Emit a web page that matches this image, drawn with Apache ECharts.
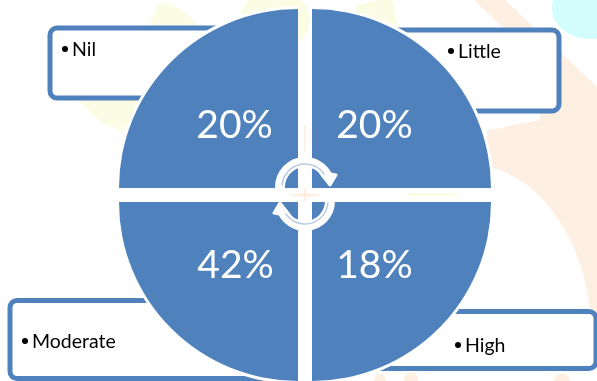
<!DOCTYPE html>
<html>
<head>
<meta charset="utf-8">
<style>html,body{margin:0;padding:0;background:#fff}#chart{width:597px;height:381px}</style>
<script src="https://cdn.jsdelivr.net/npm/echarts@6/dist/echarts.min.js"></script>
</head>
<body>
<div id="chart"></div>
<script>
// Answers by level, one quadrant each
const categories = ['Nil', 'Little', 'Moderate', 'High'];
const shares = [20, 20, 42, 18];

const BLUE = '#4f81bd';
const PEACH = '#feefe3';
const YELLOW = '#fafde4';
const LABEL_FONT = '19.5px Lato, "Open Sans", sans-serif';

// Quadrant placement: centre, sweep and percent label nudge of each sector
const quadrants = [
  { center: [298, 188], start: 180, end: 90, nudge: [2, 3] },
  { center: [312, 188], start: 90, end: 0, nudge: [-3, 3] },
  { center: [298, 202], start: 270, end: 180, nudge: [3, -2] },
  { center: [312, 202], start: 360, end: 270, nudge: [-3, -2] }
];
const OUTER_RADIUS = 179;
const HALO_RADIUS = 182;

// Callout frames behind the sectors, with their bullet positions
const callouts = [
  { box: [50, 28, 230, 70], bullet: [60, 48], text: [72, 50] },
  { box: [360, 30, 199, 81], bullet: [446, 50], text: [458, 52] },
  { box: [10, 300.5, 275, 78], bullet: [20, 340], text: [32, 342] },
  { box: [350, 311.5, 246, 57], bullet: [453, 344], text: [465, 346] }
];

function pale(shape, fill) {
  return { type: 'ellipse', silent: true, z: 0, shape, style: { fill } };
}
function patch(points, fill) {
  return { type: 'polygon', silent: true, z: 0, shape: { points, smooth: 0 }, style: { fill } };
}

// Faint backdrop artwork
const backdrop = [
  patch([[474, 0], [505, 0], [597, 87], [597, 325], [487, 325], [487, 130], [540, 120], [540, 62]], PEACH),
  pale({ cx: 470, cy: 340, rx: 122, ry: 175 }, '#fff'),
  pale({ cx: 495, cy: 100, rx: 27, ry: 29 }, '#fff'),
  pale({ cx: 590, cy: 8, rx: 38, ry: 31 }, '#d3fdfd'),
  patch([[160, 2], [172, 5], [186, 13], [200, 28], [215, 60], [150, 128], [122, 131], [100, 122], [78, 100], [120, 60], [148, 27]], YELLOW),
  pale({ cx: 275, cy: 20, rx: 35, ry: 30 }, YELLOW),
  patch([[354, 6], [378, 0], [392, 0], [398, 27], [360, 27]], YELLOW),
  pale({ cx: 380, cy: 380, rx: 6, ry: 6 }, PEACH),
  pale({ cx: 411, cy: 380, rx: 7, ry: 8 }, PEACH),
  pale({ cx: 562, cy: 380, rx: 8, ry: 6 }, PEACH),
  { type: 'rect', silent: true, z: 0, shape: { x: 408, y: 193, width: 50, height: 3 }, style: { fill: YELLOW } },
  { type: 'rect', silent: true, z: 0, shape: { x: 304, y: 125, width: 2, height: 26 }, style: { fill: PEACH } },
  pale({ cx: 305, cy: 195, rx: 16, ry: 1.5 }, PEACH),
  pale({ cx: 305, cy: 195, rx: 1.5, ry: 7 }, PEACH)
];

// Callout frames and their bullet text
const frames = callouts.flatMap((c, i) => [
  {
    type: 'rect', silent: true, z: 1,
    shape: { x: c.box[0], y: c.box[1], width: c.box[2], height: c.box[3], r: 7 },
    style: { fill: '#fff', stroke: BLUE, lineWidth: 5 }
  },
  {
    type: 'circle', silent: true, z: 1,
    shape: { cx: c.bullet[0] + 5, cy: c.bullet[1] + 1, r: 3 },
    style: { fill: '#000' }
  },
  {
    type: 'text', silent: true, z: 1,
    style: { text: categories[i], x: c.text[0], y: c.text[1], font: LABEL_FONT, fill: '#000', verticalAlign: 'middle' }
  }
]);

// One half of the circular arrow pair; the second is the same drawing turned half a turn
function cycleArrow(rotation) {
  const cx = 0, cy = -7;
  return {
    type: 'group', x: 305, y: 194, rotation, z: 10, silent: true,
    children: [
      {
        type: 'arc', z: 10,
        shape: { cx, cy, r: 25, startAngle: Math.PI * 0.99, endAngle: Math.PI * 1.85, clockwise: true },
        style: { fill: 'none', stroke: '#fff', lineWidth: 10, lineCap: 'round' }
      },
      {
        type: 'polygon', z: 10,
        shape: { points: [[15, -22], [31, -19], [25, -9]] },
        style: { fill: '#fff', stroke: '#fff', lineWidth: 3, lineJoin: 'round' }
      },
      {
        type: 'arc', z: 11,
        shape: { cx, cy, r: 23, startAngle: Math.PI * 1.02, endAngle: Math.PI * 1.82, clockwise: true },
        style: { fill: 'none', stroke: '#b9cbe3', lineWidth: 1.5 }
      }
    ]
  };
}

// Each level is its own sector series so the quadrants stay apart; a white one sits behind as a rim
const series = quadrants.flatMap((q, i) => {
  const base = {
    type: 'pie', center: q.center, startAngle: q.start, endAngle: q.end,
    animation: false, silent: true, clockwise: true, avoidLabelOverlap: false,
    labelLine: { show: false }
  };
  return [
    Object.assign({}, base, {
      z: 2, radius: [0, HALO_RADIUS],
      data: [{ name: categories[i], value: shares[i] }],
      itemStyle: { color: '#fff' },
      label: { show: false }
    }),
    Object.assign({}, base, {
      z: 3, radius: [0, OUTER_RADIUS],
      data: [{ name: categories[i], value: shares[i] }],
      itemStyle: { color: BLUE },
      label: {
        show: true, position: 'inside', formatter: '{c}%', color: '#fff', offset: q.nudge,
        fontFamily: 'Lato, "Open Sans", sans-serif', fontSize: 39
      }
    })
  ];
});

const chart = echarts.init(document.getElementById('chart'));
chart.setOption({
  backgroundColor: '#fff',
  animation: false,
  graphic: { elements: [...backdrop, ...frames, cycleArrow(0), cycleArrow(Math.PI)] },
  series
});
</script>
</body>
</html>
